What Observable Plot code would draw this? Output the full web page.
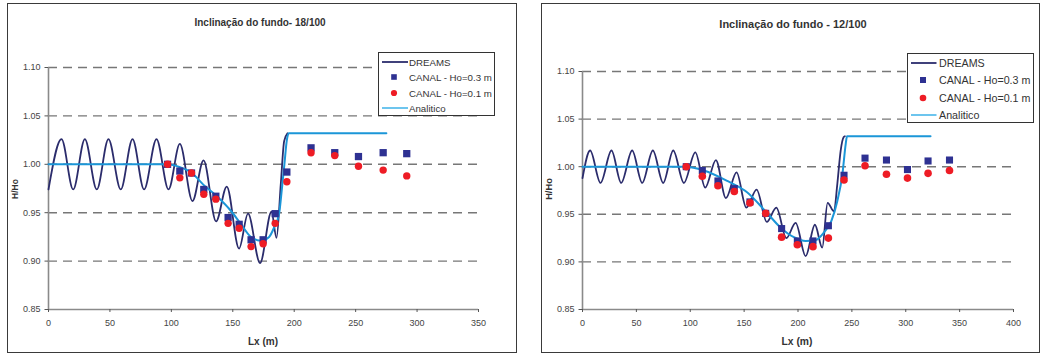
<!DOCTYPE html>
<html>
<head>
<meta charset="utf-8">
<script src="https://cdn.jsdelivr.net/npm/d3@7"></script>
<script src="https://cdn.jsdelivr.net/npm/@observablehq/plot@0.6"></script>
<style>
  html, body { margin: 0; padding: 0; background: #fff; }
  body { width: 1041px; height: 353px; position: relative; overflow: hidden; font-family: "Liberation Sans", Arial, sans-serif; }
  .frame { position: absolute; border: 1.5px solid #3a3a3a; box-sizing: border-box; }
  .abs { position: absolute; white-space: nowrap; }
  .title { font-weight: bold; color: #333; transform: translate(-50%, -50%); }
  .xlab { font-weight: bold; color: #333; transform: translate(-50%, -50%); }
  .ylab { font-weight: bold; color: #333; transform: translate(-50%, -50%) rotate(-90deg); }
  .legend { position: absolute; border: 1px solid #333; background: #fff; box-sizing: border-box; }
  .legend .row { position: absolute; left: 0; right: 0; height: 14px; transform: translateY(-50%); }
  .legend svg { position: absolute; top: 0; left: 0; }
  .legend span { position: absolute; top: 50%; transform: translateY(-50%); color: #333; }
  .plot { position: absolute; }
</style>
</head>
<body>
<script>
// ---------------- DATA ----------------
// Panel 1: Inclinação do fundo - 18/100
const dreams18 = [[0,0.974],[10.6,1.026],[20.1,0.974],[29.6,1.026],[39.3,0.974],[48.8,1.026],[58.8,0.974],[68.4,1.026],[77.8,0.974],[87.9,1.026],[97.7,0.974],[106.9,1.021],[117.2,0.962],[126.2,1.004],[136.4,0.941],[145.1,0.977],[155.1,0.913],[162.4,0.949],[172.2,0.898],[181.5,0.951],[185.6,0.924],[189.1,0.980],[191.8,1.024],[194.5,1.032]];
const canal03_18 = [[96.9,1.000],[106.9,0.993],[116.4,0.991],[126.4,0.974],[136.2,0.967],[146.2,0.945],[155.2,0.938],[164.9,0.922],[174.7,0.922],[184.5,0.949],[194.0,0.992],[213.7,1.017],[233.0,1.012],[252.3,1.008],[272.4,1.012],[291.6,1.011]];
const canal01_18 = [[96.9,1.000],[106.9,0.986],[116.4,0.991],[126.4,0.969],[136.2,0.964],[146.2,0.939],[155.2,0.934],[164.9,0.915],[174.7,0.918],[184.5,0.939],[194.0,0.982],[213.7,1.012],[233.0,1.009],[252.3,0.998],[272.4,0.994],[291.6,0.988]];
const analitico18 = [[0,1.000],[97,1.000],[107,0.997],[116.7,0.991],[126,0.979],[136.2,0.968],[148.4,0.952],[155.7,0.940],[164.7,0.925],[172.8,0.921],[179.6,0.925],[183.7,0.935],[187.7,0.949],[190,0.975],[192,1.000],[194,1.025],[195.5,1.032],[275,1.032]];

// Panel 2: Inclinação do fundo - 12/100
const dreams12 = [[0,0.988],[7.1,1.017],[16.7,0.983],[26.9,1.017],[35.9,0.983],[46.1,1.017],[55.4,0.983],[65.3,1.017],[74.9,0.983],[84.2,1.017],[94.1,0.983],[104.7,1.015],[113.9,0.978],[123.8,1.007],[133.1,0.967],[143.0,0.994],[152.0,0.957],[161.6,0.976],[171.0,0.942],[179.9,0.957],[189.2,0.925],[197.8,0.941],[207.1,0.906],[215.7,0.939],[222.5,0.915],[227.5,0.962],[233.4,0.953],[236.5,0.982],[239.6,1.017],[242.3,1.031],[243.5,1.032]];
const canal03_12 = [[96.3,1.000],[111.2,0.996],[125.7,0.985],[140.9,0.977],[155.4,0.963],[170.0,0.951],[184.8,0.935],[199.4,0.922],[213.9,0.922],[228.2,0.938],[242.7,0.991],[262.2,1.009],[282.1,1.007],[301.6,0.997],[320.7,1.006],[340.6,1.007]];
const canal01_12 = [[96.3,1.000],[111.2,0.990],[125.7,0.980],[140.9,0.974],[155.4,0.962],[170.0,0.951],[184.8,0.926],[199.4,0.918],[213.9,0.916],[228.2,0.925],[242.7,0.986],[262.2,1.001],[282.1,0.992],[301.6,0.988],[320.7,0.993],[340.6,0.996]];
const analitico12 = [[0,1.000],[96,1.000],[112.7,0.996],[134.4,0.985],[153,0.973],[170,0.953],[183.9,0.936],[196.2,0.926],[207.1,0.922],[216.4,0.923],[224.1,0.931],[231,0.943],[236.5,0.964],[241.2,0.992],[244.3,1.024],[245.5,1.032],[323,1.032]];

const yTicks = [0.85, 0.90, 0.95, 1.00, 1.05, 1.10];
const yGrid = [0.90, 0.95, 1.00, 1.05, 1.10];
const xTicks18 = [0, 50, 100, 150, 200, 250, 300, 350];
const xTicks12 = [0, 50, 100, 150, 200, 250, 300, 350, 400];

const titles = ["Inclinação do fundo- 18/100", "Inclinação do fundo - 12/100"];
const legendLabels = ["DREAMS", "CANAL - Ho=0.3 m", "CANAL - Ho=0.1 m", "Analitico"];
const xLabel = "Lx (m)";
const yLabel = "H/Ho";

// ---------------- STYLE ----------------
const C_DREAMS = "#2b2c6c";
const C_SQ = "#2e3192";
const C_CI = "#ee1c25";
const C_AN = "#1b96d8";
const C_AN_LEG = "#3db2e8";
const C_GRID = "#777";
const C_AXIS = "#8a8a8a";

function toObj(arr) { return arr.map(([x, y]) => ({x, y})); }

function makePanel(cfg) {
  const plot = Plot.plot({
    width: cfg.w, height: cfg.h,
    marginLeft: cfg.ml, marginRight: cfg.mr, marginTop: cfg.mt, marginBottom: cfg.mb,
    x: {domain: [0, cfg.xmax]},
    y: {domain: [0.85, 1.10]},
    style: {fontFamily: "'Liberation Sans', Arial, sans-serif", fontSize: "9px", color: "#444", background: "transparent", overflow: "visible"},
    marks: [
      Plot.ruleY(yGrid, {x1: 0, x2: cfg.xmax, stroke: C_GRID, strokeWidth: 1.4, strokeDasharray: cfg.dash}),
      Plot.ruleX([0], {y1: 0.85, y2: 1.10, stroke: C_AXIS, strokeWidth: 1.6}),
      Plot.ruleY([0.85], {x1: 0, x2: cfg.xmax, stroke: C_AXIS, strokeWidth: 1.6}),
      Plot.axisY({ticks: yTicks, tickFormat: d3.format(".2f"), tickSize: 3.5, tickPadding: 4.5, label: null, stroke: "#555"}),
      Plot.axisX({ticks: cfg.xTicks, tickSize: 3, tickPadding: 7, label: null, stroke: "#555"}),
      Plot.line(toObj(cfg.dreams), {x: "x", y: "y", curve: "monotone-x", stroke: C_DREAMS, strokeWidth: 1.8}),
      Plot.line(toObj(cfg.analitico), {x: "x", y: "y", curve: "monotone-x", stroke: C_AN, strokeWidth: 2}),
      Plot.dot(toObj(cfg.sq), {x: "x", y: "y", symbol: "square", r: cfg.rs, fill: C_SQ, stroke: "none"}),
      Plot.dot(toObj(cfg.ci), {x: "x", y: "y", symbol: "circle", r: cfg.rc, fill: C_CI, stroke: "none"})
    ]
  });
  plot.classList.add("plot");
  plot.style.left = cfg.left + "px";
  plot.style.top = cfg.top + "px";
  document.body.appendChild(plot);
}

function addDiv(cls, text, x, y, size) {
  const d = document.createElement("div");
  d.className = "abs " + cls;
  d.textContent = text;
  d.style.left = x + "px";
  d.style.top = y + "px";
  d.style.fontSize = size + "px";
  document.body.appendChild(d);
  return d;
}

function addFrame(l, t, w, h) {
  const f = document.createElement("div");
  f.className = "frame";
  Object.assign(f.style, {left: l + "px", top: t + "px", width: w + "px", height: h + "px"});
  document.body.appendChild(f);
}

function addLegend(cfg) {
  const box = document.createElement("div");
  box.className = "legend";
  Object.assign(box.style, {left: cfg.left + "px", top: cfg.top + "px", width: cfg.w + "px", height: cfg.h + "px"});
  legendLabels.forEach((lab, i) => {
    const row = document.createElement("div");
    row.className = "row";
    row.style.top = (cfg.first + i * cfg.step) + "px";
    const ns = "http://www.w3.org/2000/svg";
    const svg = document.createElementNS(ns, "svg");
    svg.setAttribute("width", 40); svg.setAttribute("height", 14);
    let el;
    if (i === 0 || i === 3) {
      el = document.createElementNS(ns, "line");
      el.setAttribute("x1", cfg.lx1); el.setAttribute("x2", cfg.lx2);
      el.setAttribute("y1", 7); el.setAttribute("y2", 7);
      el.setAttribute("stroke", i === 0 ? C_DREAMS : C_AN_LEG);
      el.setAttribute("stroke-width", i === 0 ? 1.8 : 1.5);
    } else if (i === 1) {
      el = document.createElementNS(ns, "rect");
      const s = cfg.ms;
      el.setAttribute("x", cfg.mx - s / 2); el.setAttribute("y", 7 - s / 2);
      el.setAttribute("width", s); el.setAttribute("height", s);
      el.setAttribute("fill", C_SQ);
    } else {
      el = document.createElementNS(ns, "circle");
      el.setAttribute("cx", cfg.mx); el.setAttribute("cy", 7);
      el.setAttribute("r", cfg.ms / 2 + 0.3);
      el.setAttribute("fill", C_CI);
    }
    svg.appendChild(el);
    row.appendChild(svg);
    const sp = document.createElement("span");
    sp.textContent = lab;
    sp.style.left = cfg.tx + "px";
    sp.style.fontSize = cfg.fs + "px";
    row.appendChild(sp);
    box.appendChild(row);
  });
  document.body.appendChild(box);
}

// ---------------- PANEL 1 ----------------
addFrame(7, 3, 510, 350);
makePanel({left: 8, top: 40, w: 505, h: 310, ml: 40, mr: 35, mt: 27, mb: 41, xmax: 350, xTicks: xTicks18,
  dreams: dreams18, analitico: analitico18, sq: canal03_18, ci: canal01_18, rs: 4.1, rc: 3.7, dash: "9,6"});
addDiv("title", titles[0], 260, 22, 10);
addDiv("xlab", xLabel, 263, 341, 10);
addDiv("ylab", yLabel, 15, 189, 8.5);
addLegend({left: 377.5, top: 52, w: 117.5, h: 64, first: 8.6, step: 15.5, lx1: 3, lx2: 29, mx: 15, ms: 5.6, tx: 30.5, fs: 9.7});

// ---------------- PANEL 2 ----------------
addFrame(541, 3, 499, 350);
makePanel({left: 542, top: 40, w: 497, h: 310, ml: 40, mr: 26, mt: 31, mb: 41, xmax: 400, xTicks: xTicks12,
  dreams: dreams12, analitico: analitico12, sq: canal03_12, ci: canal01_12, rs: 4.0, rc: 3.8, dash: "9,6"});
addDiv("title", titles[1], 793, 24, 11);
addDiv("xlab", xLabel, 797, 341, 10.3);
addDiv("ylab", yLabel, 549, 189, 9.3);
addLegend({left: 906.5, top: 53, w: 127.5, h: 69.5, first: 9.2, step: 17.2, lx1: 3, lx2: 28.5, mx: 15, ms: 6, tx: 31.5, fs: 10.7});
</script>
</body>
</html>
